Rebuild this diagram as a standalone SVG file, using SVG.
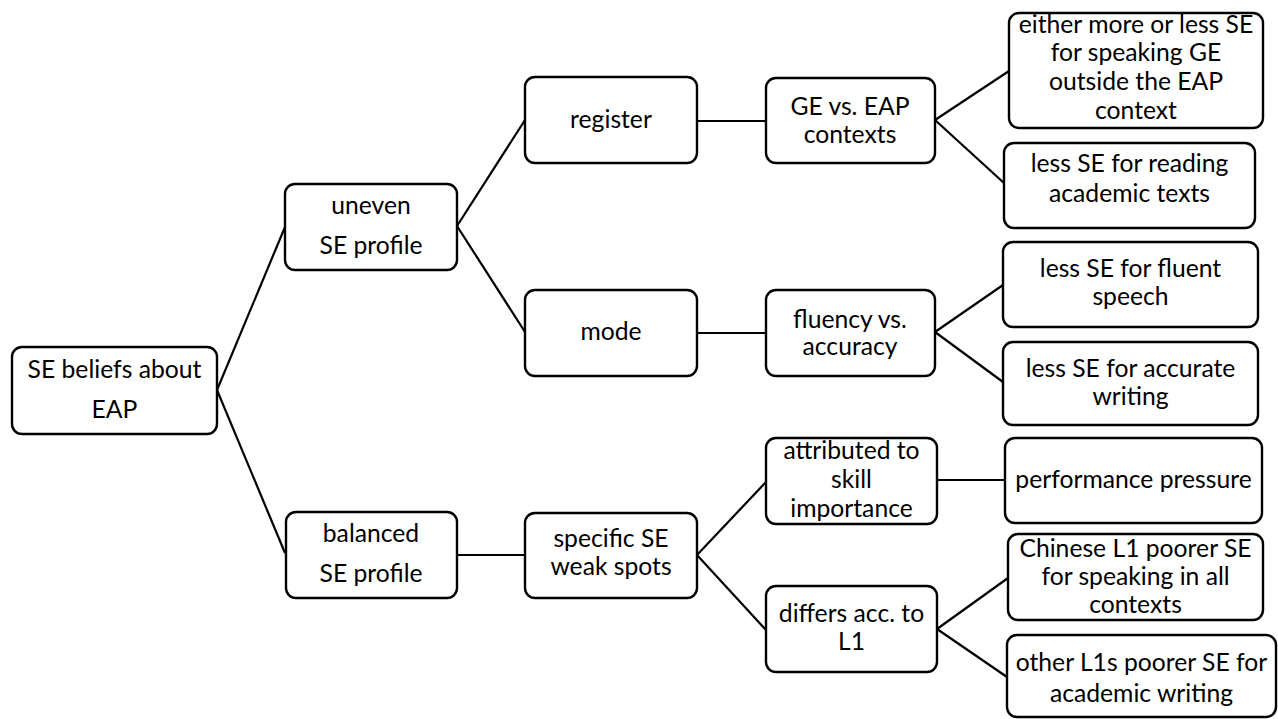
<svg xmlns="http://www.w3.org/2000/svg" width="1278" height="719" viewBox="0 0 1278 719">
  <style>
    .box { fill: #ffffff; stroke: #000000; stroke-width: 2.4; }
    .edge { fill: none; stroke: #000000; stroke-width: 2.2; }
    text { font-family: Lato, "Open Sans", "Liberation Sans", sans-serif; font-size: 24.7px; fill: #000000; text-anchor: middle; }
  </style>
  <rect width="1278" height="719" fill="#ffffff"/>

  <g id="connectors">
    <line class="edge" x1="217" y1="390" x2="285" y2="227"/>
    <line class="edge" x1="217" y1="390" x2="285" y2="553"/>
    <line class="edge" x1="457" y1="226" x2="525" y2="120"/>
    <line class="edge" x1="457" y1="226" x2="525" y2="332"/>
    <line class="edge" x1="697" y1="121" x2="766" y2="121"/>
    <line class="edge" x1="697" y1="333" x2="766" y2="333"/>
    <line class="edge" x1="935" y1="120" x2="1009" y2="71"/>
    <line class="edge" x1="935" y1="120" x2="1004" y2="183"/>
    <line class="edge" x1="935" y1="332" x2="1003" y2="285"/>
    <line class="edge" x1="935" y1="332" x2="1003" y2="382"/>
    <line class="edge" x1="457" y1="555" x2="525" y2="555"/>
    <line class="edge" x1="697" y1="555" x2="766" y2="482"/>
    <line class="edge" x1="697" y1="555" x2="766" y2="630"/>
    <line class="edge" x1="937" y1="480" x2="1005" y2="480"/>
    <line class="edge" x1="937" y1="629" x2="1008" y2="578"/>
    <line class="edge" x1="937" y1="629" x2="1007" y2="677"/>
  </g>

  <g id="root">
    <rect class="box" x="12" y="347" width="205" height="87" rx="10"/>
    <text x="114.5" y="378">SE beliefs about</text>
    <text x="114.5" y="418">EAP</text>
  </g>

  <g id="uneven">
    <rect class="box" x="285" y="184" width="172" height="86" rx="10"/>
    <text x="371" y="214">uneven</text>
    <text x="371" y="254">SE profile</text>
  </g>

  <g id="balanced">
    <rect class="box" x="286" y="512" width="171" height="86" rx="10"/>
    <text x="371" y="542">balanced</text>
    <text x="371" y="582">SE profile</text>
  </g>

  <g id="register">
    <rect class="box" x="525" y="77" width="172" height="86" rx="10"/>
    <text x="611" y="128">register</text>
  </g>

  <g id="mode">
    <rect class="box" x="525" y="290" width="172" height="86" rx="10"/>
    <text x="611" y="340">mode</text>
  </g>

  <g id="weak-spots">
    <rect class="box" x="525" y="513" width="172" height="85" rx="10"/>
    <text x="611" y="547">specific SE</text>
    <text x="611" y="575">weak spots</text>
  </g>

  <g id="contexts">
    <rect class="box" x="766" y="78" width="169" height="85" rx="10"/>
    <text x="850" y="115">GE vs. EAP</text>
    <text x="850" y="143">contexts</text>
  </g>

  <g id="fluency">
    <rect class="box" x="766" y="290" width="169" height="86" rx="10"/>
    <text x="850" y="328">fluency vs.</text>
    <text x="850" y="355">accuracy</text>
  </g>

  <g id="skill-importance">
    <rect class="box" x="766" y="438" width="171" height="86" rx="10"/>
    <text x="851.5" y="459">attributed to</text>
    <text x="851.5" y="488">skill</text>
    <text x="851.5" y="517">importance</text>
  </g>

  <g id="by-l1">
    <rect class="box" x="766" y="586" width="171" height="86" rx="10"/>
    <text x="851.5" y="622">differs acc. to</text>
    <text x="851.5" y="650">L1</text>
  </g>

  <g id="speaking-ge">
    <rect class="box" x="1009" y="13" width="254" height="115" rx="10"/>
    <text x="1136" y="33">either more or less SE</text>
    <text x="1136" y="61">for speaking GE</text>
    <text x="1136" y="90">outside the EAP</text>
    <text x="1136" y="119">context</text>
  </g>

  <g id="reading">
    <rect class="box" x="1004" y="143" width="251" height="85" rx="10"/>
    <text x="1129.5" y="172">less SE for reading</text>
    <text x="1129.5" y="202">academic texts</text>
  </g>

  <g id="fluent-speech">
    <rect class="box" x="1003" y="242" width="255" height="85" rx="10"/>
    <text x="1130.5" y="277">less SE for fluent</text>
    <text x="1130.5" y="305">speech</text>
  </g>

  <g id="accurate-writing">
    <rect class="box" x="1003" y="342" width="255" height="83" rx="10"/>
    <text x="1130.5" y="377">less SE for accurate</text>
    <text x="1130.5" y="405">writing</text>
  </g>

  <g id="performance">
    <rect class="box" x="1005" y="438" width="257" height="85" rx="10"/>
    <text x="1133.5" y="488">performance pressure</text>
  </g>

  <g id="chinese-l1">
    <rect class="box" x="1008" y="534" width="255" height="86" rx="10"/>
    <text x="1135.5" y="557">Chinese L1 poorer SE</text>
    <text x="1135.5" y="585">for speaking in all</text>
    <text x="1135.5" y="613">contexts</text>
  </g>

  <g id="other-l1">
    <rect class="box" x="1007" y="635" width="269" height="82" rx="10"/>
    <text x="1141.5" y="671">other L1s poorer SE for</text>
    <text x="1141.5" y="702">academic writing</text>
  </g>
</svg>
